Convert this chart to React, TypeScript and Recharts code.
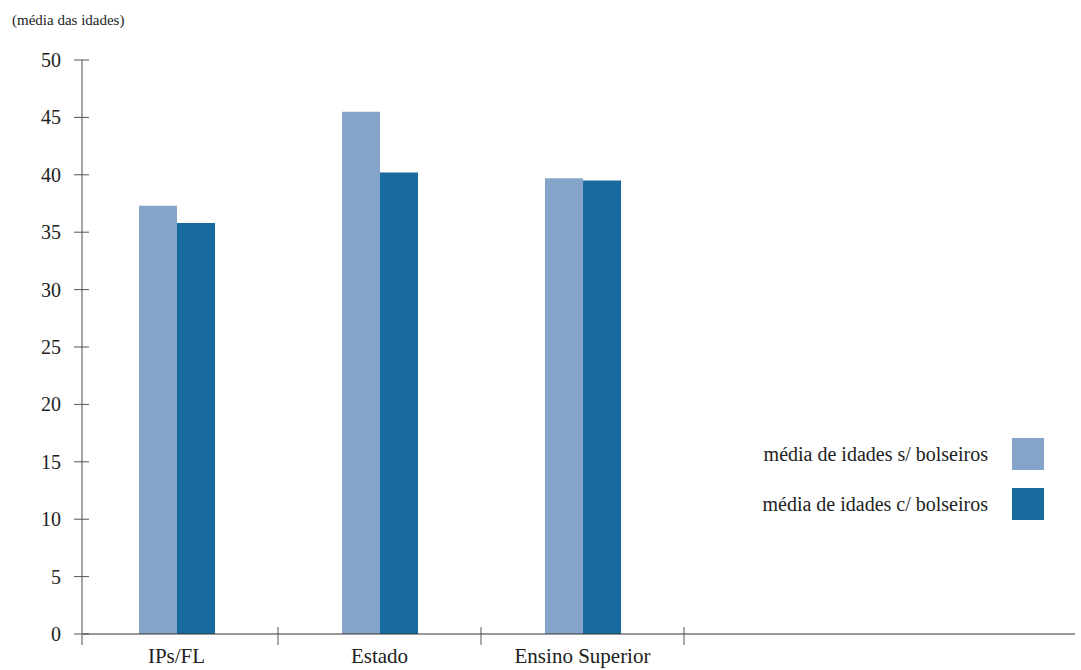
import React from 'react';
import { BarChart, Bar, XAxis, YAxis } from 'recharts';

const categories = ['IPs/FL', 'Estado', 'Ensino Superior'];
const semBolseiros = [37.3, 45.5, 39.7];
const comBolseiros = [35.8, 40.2, 39.5];
const yTicks = [0, 5, 10, 15, 20, 25, 30, 35, 40, 45, 50];
const seriesNames = ['média de idades s/ bolseiros', 'média de idades c/ bolseiros'];
const seriesColors = ['#84A5C9', '#176B9F'];
const yTitle = '(média das idades)';

const data = categories.map((c, i) => ({ cat: c, s: semBolseiros[i], c: comBolseiros[i] }));

const FONT = "'Liberation Serif', 'Times New Roman', Tinos, serif";
const BAND = 203;

const XTick = (props: any) => {
  const { x, y, payload } = props;
  return (
    <g>
      <text x={x} y={y + 29} textAnchor="middle" style={{ fontFamily: FONT }} fontSize={21} fill="#222">
        {payload.value}
      </text>
      <line x1={x + BAND / 2} x2={x + BAND / 2} y1={y - 7} y2={y + 11} stroke="#555" strokeWidth={1} />
    </g>
  );
};

const YTick = (props: any) => {
  const { x, y, payload } = props;
  return (
    <g>
      <text x={x - 21} y={y} dy="0.35em" textAnchor="end" style={{ fontFamily: FONT }} fontSize={20} fill="#222">
        {payload.value}
      </text>
      <line x1={x - 8} x2={x + 7} y1={y} y2={y} stroke="#555" strokeWidth={1} />
      {payload.value === 0 ? <line x1={x} x2={x} y1={y} y2={y + 11} stroke="#888" strokeWidth={1.5} /> : null}
    </g>
  );
};

export default function App() {
  return (
    <div style={{ position: 'absolute', left: 0, top: 0, width: 1081, height: 670, background: '#fff', fontFamily: FONT }}>
      <div style={{ position: 'absolute', left: 12, top: 11, fontFamily: FONT, fontSize: 15, color: '#222', lineHeight: '18px' }}>{yTitle}</div>
      <BarChart
        width={1081}
        height={670}
        data={data}
        margin={{ top: 60, right: 6, left: 0, bottom: 6 }}
        barGap={0}
        barSize={38}
      >
        <XAxis
          dataKey="cat"
          height={30}
          tickSize={0}
          tickMargin={0}
          tickLine={false}
          axisLine={{ stroke: '#333', strokeWidth: 1.2 }}
          padding={{ left: -7, right: 391 }}
          tick={<XTick />}
          interval={0}
        />
        <YAxis
          width={82}
          domain={[0, 50]}
          ticks={yTicks}
          tickSize={0}
          tickMargin={0}
          tickLine={false}
          axisLine={{ stroke: '#888', strokeWidth: 1.5 }}
          tick={<YTick />}
          interval={0}
        />
        <Bar dataKey="s" name={seriesNames[0]} fill={seriesColors[0]} isAnimationActive={false} />
        <Bar dataKey="c" name={seriesNames[1]} fill={seriesColors[1]} isAnimationActive={false} />
      </BarChart>
      <div style={{ position: 'absolute', left: 660, top: 438, width: 384, fontFamily: FONT, fontSize: 20, color: '#222' }}>
        {seriesNames.map((n, i) => (
          <div key={n} style={{ display: 'flex', justifyContent: 'flex-end', alignItems: 'center', height: 32, marginBottom: 18 }}>
            <span style={{ marginRight: 24 }}>{n}</span>
            <span style={{ display: 'inline-block', width: 32, height: 32, background: seriesColors[i] }} />
          </div>
        ))}
      </div>
    </div>
  );
}
